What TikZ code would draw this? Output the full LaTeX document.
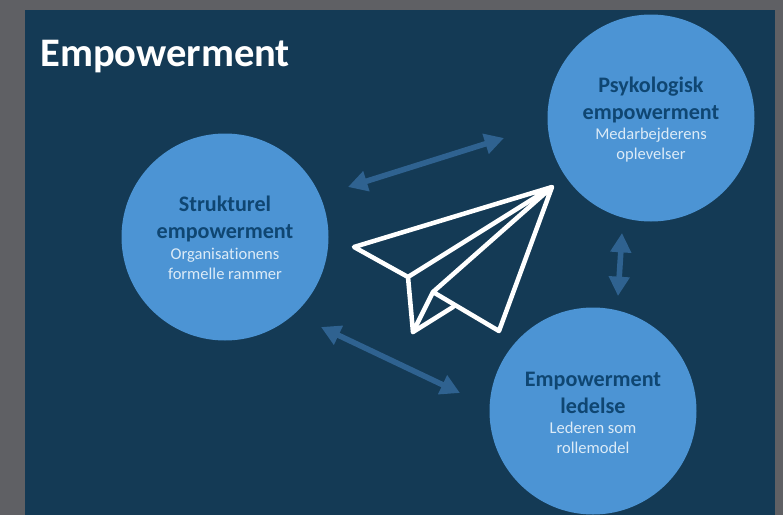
\documentclass[tikz,border=0pt]{standalone}
\usepackage{fontspec}
\setmainfont[Ligatures=NoCommon]{Carlito}
\usetikzlibrary{arrows.meta}
\definecolor{bggray}{HTML}{5F6064}
\definecolor{panel}{HTML}{143A55}
\definecolor{disc}{HTML}{4C94D4}
\definecolor{head}{HTML}{0F4672}
\definecolor{sub}{HTML}{DCEBF7}
\definecolor{arrowc}{HTML}{2F6290}
\tikzset{
  x=0.75pt,y=-0.75pt,
  disc/.style={circle,fill=disc,draw=none,minimum size=155.25pt,inner sep=0pt},
  heading/.style={font=\fontsize{16.6pt}{20.6pt}\selectfont\bfseries,text=head,align=center,inner sep=0pt},
  subtext/.style={font=\fontsize{12.4pt}{15.4pt}\selectfont,text=sub,align=center,inner sep=0pt},
  link/.style={draw=arrowc,line width=4.2pt,{Triangle[width=15pt,length=14.5pt]}-{Triangle[width=15pt,length=14.5pt]}},
  plane/.style={draw=white,line width=3.4pt,line join=round,line cap=round}
}
\begin{document}
\begin{tikzpicture}
\useasboundingbox (0,0) rectangle (783,515);
\fill[bggray] (0,0) rectangle (783,515);
\fill[panel] (25,10) rectangle (775,515);
\node[anchor=west,inner sep=0pt,text=white,font=\fontsize{30.4pt}{32pt}\selectfont\bfseries] (title) at (40,57) {Empowerment};
\node[disc] (s) at (225,237) {};
\node[disc] (p) at (651,118) {};
\node[disc] (l) at (593,411) {};
\node[heading] (sh) at (225,219) {Strukturel\\empowerment};
\node[subtext] (ss) at (225,264) {Organisationens\\formelle rammer};
\node[heading] (ph) at (651,100) {Psykologisk\\empowerment};
\node[subtext] (ps) at (651,145) {Medarbejderens\\oplevelser};
\node[heading] (lh) at (593,393) {Empowerment\\ledelse};
\node[subtext] (ls) at (593,438) {Lederen som\\rollemodel};
\coordinate (a1) at (348,187); \coordinate (a2) at (504,138);
\coordinate (b1) at (622,233); \coordinate (b2) at (618,296);
\coordinate (c1) at (321,327); \coordinate (c2) at (460,393);
\draw[link] (a1) -- (a2);
\draw[link] (b1) -- (b2);
\draw[link] (c1) -- (c2);
\coordinate (tip) at (552,187);
\coordinate (wing) at (354,247);
\coordinate (fold) at (408,277);
\coordinate (bl) at (413,332);
\coordinate (inner) at (433,292);
\coordinate (br) at (499,331);
\coordinate (mid) at (453,307);
\draw[plane] (tip) -- (wing) -- (fold) -- cycle;
\draw[plane] (fold) -- (bl) -- (inner) -- (tip) -- (br) -- (inner);
\draw[plane] (bl) -- (mid);
\end{tikzpicture}
\end{document}
